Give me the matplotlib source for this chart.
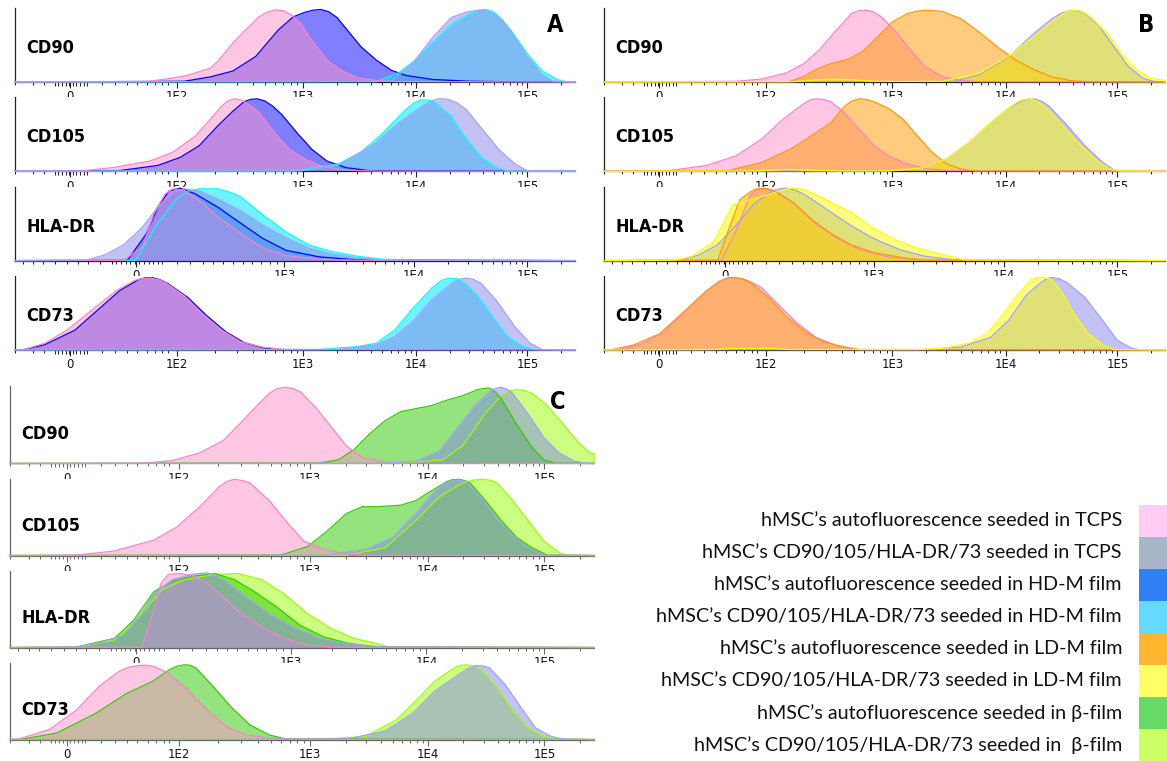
import numpy as np
import matplotlib
matplotlib.use('Agg')
import matplotlib.pyplot as plt
import matplotlib.transforms as mtransforms
from matplotlib.patches import Rectangle

# ---- axis description (display channels, axis runs 0-1000) ----
std_major = [98, 289, 514, 716, 915]
std_labels = ['0', '1E2', '1E3', '1E4', '1E5']
hla_major = [216, 481, 713, 915]
hla_labels = ['0', '1E3', '1E4', '1E5']

markers = ['CD90', 'CD105', 'HLA-DR', 'CD73']

# ---- histograms: (channel, % of max) ----
# Panel A: TCPS vs HD-M film
A_CD90_tcps_auto = [(234, .5), (275, 4.5), (308, 9), (349, 19), (362, 28), (389, 53), (409, 69), (436, 89), (452, 96), (466, 98.5), (480, 97), (495, 91), (510, 80), (530, 57), (557, 30), (584, 15), (611, 6), (645, 2), (685, .5)]
A_CD90_hd_auto = [(302, 1), (349, 7), (389, 15), (430, 35), (470, 71), (497, 89), (517, 95), (532, 98), (546, 99), (560, 96), (575, 88), (591, 73), (618, 48), (645, 30), (672, 16), (698, 9), (745, 3.5), (812, 1), (900, .3)]
A_CD90_hd_cd = [(645, .5), (685, 12.5), (712, 28), (745, 53), (779, 78), (812, 93), (828, 98), (842, 99), (856, 95), (870, 85), (887, 69), (914, 39), (941, 15), (968, 3.6), (981, .5)]
A_CD90_tcps_cd = [(672, 1), (712, 27), (745, 60), (779, 88), (805, 95), (822, 97.5), (838, 98), (855, 93), (870, 84), (887, 67), (914, 35), (941, 10), (961, 1)]

A_CD105_tcps_auto = [(117, .5), (174, 5), (241, 14), (282, 26), (322, 48), (349, 71), (369, 89), (380, 96), (392, 99), (405, 97), (420, 90), (436, 80), (463, 53), (490, 30), (517, 17), (544, 8), (577, 3), (611, 1), (650, .3)]
A_CD105_hd_auto = [(187, 1), (255, 8), (295, 19), (329, 35), (362, 62), (389, 82), (409, 95), (420, 98), (432, 99), (446, 96), (460, 89), (477, 77), (503, 53), (530, 30), (557, 14), (591, 5), (631, 1)]
A_CD105_hd_cd = [(497, .5), (577, 10), (618, 26), (658, 53), (692, 80), (712, 93), (726, 97.5), (740, 97), (752, 93), (779, 75), (806, 44), (833, 19), (860, 5), (880, .5)]
A_CD105_tcps_cd = [(510, .5), (577, 8), (645, 39), (685, 66), (719, 84), (740, 95), (756, 99), (772, 98.5), (788, 94), (806, 84), (839, 53), (866, 28), (893, 10), (914, 1)]

A_HLA_tcps_auto = [(194, .5), (228, 19), (248, 64), (268, 91), (282, 98), (302, 96), (329, 82), (362, 60), (403, 37), (443, 17), (484, 7), (544, 2), (611, .5)]
A_HLA_hd_auto = [(201, .5), (235, 37), (255, 73), (275, 95), (295, 99), (322, 91), (362, 73), (403, 51), (443, 30), (484, 14), (544, 5), (611, 1)]
A_HLA_hd_cd = [(215, .5), (255, 51), (288, 84), (310, 95), (329, 98), (362, 98), (385, 93), (403, 87), (443, 62), (484, 39), (524, 21.5), (564, 12.5), (611, 6), (652, 2), (700, .5)]
A_HLA_tcps_cd = [(127, .5), (161, 8), (194, 21.5), (228, 46), (255, 73), (282, 93), (302, 98), (329, 95), (362, 84), (403, 68), (443, 48), (484, 31), (524, 17), (564, 9), (611, 3.5), (660, .5)]

A_CD73_tcps_auto = [(16, .5), (53, 9), (93, 27), (140, 56), (181, 81), (214, 95), (228, 97.5), (241, 98), (256, 96), (268, 92), (302, 74), (335, 49), (369, 27), (403, 11), (443, 3.6), (484, .5)]
A_CD73_hd_auto = [(16, .5), (53, 7), (107, 27), (147, 54), (187, 81), (221, 96), (233, 98.5), (246, 98.5), (258, 96), (272, 91), (308, 72), (342, 47), (376, 25), (409, 10), (443, 3), (470, .5)]
A_CD73_hd_cd = [(544, .5), (611, 4.5), (645, 9), (678, 27), (712, 58), (745, 85), (762, 95), (775, 98), (789, 97), (805, 90), (826, 74), (853, 45), (880, 18), (907, 4.5), (927, .5)]
A_CD73_tcps_cd = [(577, .5), (645, 7), (678, 18), (712, 40), (745, 69), (779, 90), (792, 96), (805, 98), (818, 96.5), (832, 91), (860, 67), (893, 31), (920, 9), (941, .5)]

# Panel B: TCPS vs LD-M film
B_CD90_tcps_auto = [(235, 1), (281, 4), (326, 12.6), (358, 26), (384, 44), (410, 67), (442, 94), (455, 97.5), (468, 98), (481, 95.5), (494, 89), (520, 69), (546, 44), (572, 21), (604, 7), (637, 2), (669, .5)]
B_CD90_tcps_cd = [(624, 1), (669, 10), (721, 34), (766, 66), (798, 86), (815, 94), (831, 98), (845, 97), (857, 94), (883, 76), (909, 48), (935, 21), (961, 5), (980, 1)]
B_CD90_ld_auto = [(330, .5), (352, 6), (378, 17), (404, 25), (436, 31), (462, 42), (488, 62), (514, 82), (540, 93), (556, 96.5), (572, 98), (588, 97.5), (604, 96), (637, 86), (669, 68), (701, 48), (734, 30), (766, 17), (798, 7), (831, 2), (863, .5)]
B_CD90_ld_cd = [(339, .5), (404, 4), (442, 3), (481, 1), (540, .8), (604, 1), (669, 12), (721, 35), (766, 62), (798, 82), (824, 96), (834, 98), (846, 98), (858, 94), (870, 87), (896, 67), (922, 39), (948, 17), (974, 5), (1000, 2)]

B_CD105_tcps_auto = [(112, .5), (183, 8), (235, 21), (281, 44), (319, 71), (352, 90), (366, 97), (378, 99), (391, 98), (404, 95), (429, 80), (455, 57), (481, 35), (507, 21), (540, 10), (572, 4), (611, 1)]
B_CD105_tcps_cd = [(507, .5), (572, 5), (611, 17), (650, 39), (689, 66), (721, 86), (747, 97), (766, 99), (779, 96), (792, 90), (824, 64), (857, 35), (889, 12), (909, 2), (925, .5)]
B_CD105_ld_auto = [(222, 1), (281, 12), (332, 30), (365, 46), (404, 66), (429, 89), (442, 96), (455, 99), (468, 98), (481, 95), (507, 86), (533, 71), (559, 48), (585, 26), (611, 10), (637, 3), (663, .5)]
B_CD105_ld_cd = [(268, .5), (326, 2.5), (365, 1.5), (420, .5), (507, .5), (572, 5), (611, 17), (650, 39), (689, 66), (721, 86), (735, 94), (747, 98), (760, 99), (773, 95), (786, 89), (818, 62), (850, 35), (883, 12), (902, 3), (920, .5)]

B_HLA_tcps_auto = [(209, .5), (235, 40), (261, 90), (271, 96), (281, 98), (293, 97), (306, 95), (339, 78), (378, 50), (417, 30), (455, 15), (507, 5), (572, 1)]
B_HLA_tcps_cd = [(138, .5), (170, 8), (203, 22), (235, 48), (268, 78), (300, 95), (313, 98), (326, 99), (342, 96), (358, 90), (397, 70), (442, 47), (481, 30), (527, 15), (572, 6), (624, 1)]
B_HLA_ld_auto = [(203, .5), (222, 42), (242, 83), (261, 94), (272, 98), (284, 99), (295, 97.5), (306, 94), (339, 78), (372, 55), (404, 37), (442, 21), (481, 11), (540, 3), (572, .5)]
B_HLA_ld_cd = [(125, .5), (157, 6), (196, 26), (229, 76), (255, 82), (288, 89), (313, 95), (326, 98), (339, 99), (355, 97), (372, 92), (404, 80), (442, 65), (481, 44), (520, 28), (559, 17), (604, 8), (643, 1)]

B_CD73_tcps_auto = [(28, .5), (67, 8), (106, 24), (151, 57), (190, 85), (206, 94), (222, 98), (235, 98.5), (248, 97), (264, 92), (281, 85), (313, 60), (345, 36), (378, 17), (417, 5), (449, .5)]
B_CD73_tcps_cd = [(572, .5), (637, 4), (689, 17), (721, 40), (753, 75), (779, 92), (789, 97), (799, 99), (812, 97), (825, 92), (857, 72), (889, 40), (915, 13), (941, 2), (955, .5)]
B_CD73_ld_auto = [(15, .5), (54, 7), (99, 22), (145, 54), (183, 81), (213, 96), (222, 98.5), (232, 99), (246, 97), (261, 92), (293, 72), (326, 45), (358, 25), (391, 11), (429, 4), (455, .5)]
B_CD73_ld_cd = [(190, .5), (230, 2), (300, 2), (330, .5), (559, .5), (604, 2), (650, 9), (682, 22), (708, 45), (734, 72), (760, 95), (770, 98), (779, 99), (789, 98), (799, 95), (818, 77), (837, 50), (863, 22), (889, 7), (909, .5)]

# Panel C: TCPS vs beta film
C_CD90_b_cd = [(675, .5), (741, 5), (775, 23), (814, 66), (841, 89), (855, 95), (867, 97), (880, 96), (894, 92), (920, 76), (947, 52), (973, 28), (993, 14), (1000, 13)]
C_CD90_b_auto = [(530, .5), (563, 5), (590, 19), (616, 39), (642, 56), (669, 68), (695, 72), (722, 76), (748, 83), (775, 89), (801, 97), (811, 98.5), (821, 99), (831, 94), (841, 85), (867, 52), (894, 21), (914, 5), (934, .5)]
C_CD90_tcps_auto = [(232, .5), (279, 4), (325, 14), (365, 30), (391, 50), (418, 72), (444, 92), (457, 98), (470, 100), (484, 98.5), (497, 94), (523, 74), (550, 48), (576, 23), (603, 8), (642, 2), (675, .5)]
C_CD90_tcps_cd = [(642, .5), (695, 3), (735, 16), (768, 48), (794, 74), (821, 94), (831, 98.5), (841, 100), (851, 97.5), (861, 92), (887, 65), (914, 34), (940, 14), (967, 3), (987, .5)]

C_CD105_b_cd = [(576, .5), (642, 10), (695, 46), (735, 77), (775, 95), (793, 99), (811, 100), (823, 98.5), (834, 95), (861, 72), (887, 46), (914, 19), (940, 4), (953, .5)]
C_CD105_b_auto = [(464, .5), (510, 12), (543, 32), (576, 55), (603, 64), (629, 64), (669, 66), (695, 72), (722, 85), (748, 97), (758, 99.5), (768, 100), (778, 98.5), (788, 95), (814, 72), (841, 46), (867, 24), (894, 10), (920, .5)]
C_CD105_tcps_auto = [(113, .5), (179, 6), (246, 20), (285, 37), (325, 64), (358, 90), (371, 97), (384, 100), (397, 98.5), (411, 95), (444, 72), (477, 41), (503, 19), (537, 8), (576, 2), (609, .5)]
C_CD105_tcps_cd = [(543, .5), (609, 8), (656, 24), (695, 55), (728, 85), (745, 95), (761, 99), (771, 99), (781, 97), (808, 75), (834, 48), (861, 26), (887, 10), (914, .5)]

C_HLA_b_cd = [(120, .5), (179, 10), (219, 38), (259, 75), (298, 89), (351, 96), (391, 97), (431, 89), (470, 70), (510, 44), (550, 25), (589, 12), (629, 5), (649, .5)]
C_HLA_b_auto = [(113, .5), (179, 12), (212, 36), (246, 73), (278, 87), (318, 94), (351, 97), (384, 89), (417, 74), (457, 53), (497, 29), (537, 14), (576, 6), (622, 1)]
C_HLA_tcps_auto = [(226, .5), (246, 48), (259, 85), (272, 96), (292, 97), (312, 94), (338, 84), (365, 66), (391, 48), (431, 27), (470, 12), (510, 3), (560, .5)]
C_HLA_tcps_cd = [(113, .5), (153, 6), (193, 16), (226, 44), (246, 70), (278, 89), (312, 96), (338, 98), (365, 89), (404, 66), (444, 44), (484, 27), (530, 12), (576, 5), (642, .5)]

C_CD73_b_cd = [(537, .5), (609, 4), (662, 26), (695, 51), (728, 77), (761, 94), (771, 97), (781, 98), (795, 96), (808, 91), (834, 68), (861, 38), (887, 15), (914, 4), (934, .5)]
C_CD73_b_auto = [(21, .5), (80, 8.5), (146, 34), (199, 60), (246, 77), (272, 91), (285, 96), (298, 98), (308, 97.5), (318, 94), (345, 72), (378, 43), (411, 19), (444, 6), (470, 1)]
C_CD73_tcps_auto = [(14, .5), (67, 13), (113, 38), (153, 70), (186, 89), (202, 94.5), (219, 97), (233, 97.5), (246, 96), (272, 87), (305, 64), (338, 38), (371, 17), (404, 6), (444, 2), (470, .5)]
C_CD73_tcps_cd = [(576, .5), (642, 11), (689, 34), (728, 64), (768, 85), (784, 93), (798, 97), (810, 96.5), (821, 94), (848, 72), (874, 43), (900, 15), (927, 4), (947, .5)]

legend_labels = [
    'hMSC\u2019s autofluorescence seeded in TCPS',
    'hMSC\u2019s CD90/105/HLA-DR/73 seeded in TCPS',
    'hMSC\u2019s autofluorescence seeded in HD-M film',
    'hMSC\u2019s CD90/105/HLA-DR/73 seeded in HD-M film',
    'hMSC\u2019s autofluorescence seeded in LD-M film',
    'hMSC\u2019s CD90/105/HLA-DR/73 seeded in LD-M film',
    'hMSC\u2019s autofluorescence seeded in \u03b2-film',
    'hMSC\u2019s CD90/105/HLA-DR/73 seeded in  \u03b2-film',
]
legend_colors = ['#FFCCF5', '#A9B5C9', '#2F80F5', '#66D9FF',
                 '#FFB52E', '#FFFF66', '#66D966', '#CCFF66']

# fill colour, alpha, outline colour
styles = {
    'tcps_auto': ('#FF91C9', 0.5, '#FF80C8'),
    'tcps_cd': ('#8787EB', 0.5, '#A0A0FF'),
    'hd_auto': ('#0000FF', 0.5, '#0000FF'),
    'hd_cd': ('#00E6FF', 0.55, '#00FFFF'),
    'ld_auto': ('#FF9B00', 0.5, '#FF9900'),
    'ld_cd': ('#FFFF00', 0.5, '#FFFF00'),
    'b_auto': ('#2DC800', 0.5, '#33CC00'),
    'b_cd': ('#9BFF05', 0.5, '#99FF00'),
}

W, H = 1167, 761
g = globals()

panels = {
    # name: left px, right px, baselines px, height px, draw order, spine colour,
    # letter position, label height
    'A': (15, 575, [82, 171.3, 260.6, 349.9], 74,
          ['hd_auto', 'hd_cd', 'tcps_auto', 'tcps_cd'], '#222222', (555, 25), 0.46),
    'B': (604, 1165, [82, 171.3, 260.6, 349.9], 74,
          ['tcps_auto', 'tcps_cd', 'ld_auto', 'ld_cd'], '#222222', (1146, 25), 0.46),
    'C': (10, 594, [463.5, 555.5, 647.5, 739.5], 77,
          ['b_cd', 'b_auto', 'tcps_auto', 'tcps_cd'], '#666666', (558, 402), 0.38),
}
keys = {'CD90': 'CD90', 'CD105': 'CD105', 'HLA-DR': 'HLA', 'CD73': 'CD73'}


def decade_ticks(anchors):
    out = []
    for p0, p1 in zip(anchors[:-1], anchors[1:]):
        out += [p0 + np.log10(m) * (p1 - p0) for m in range(2, 10)]
    return out


std_minor = [0, 32, 52] + [155, 179, 200, 218, 236, 250, 263, 273] + \
    decade_ticks([289, 514, 716, 915, 1115])
std_cluster = list(np.linspace(71, 129, 10))
hla_minor = [14, 32, 50, 71, 93, 113, 130, 152] + \
    [289, 312, 336, 354, 371, 389, 407, 423, 439, 455, 468] + \
    decade_ticks([481, 713, 915, 1115])
hla_cluster = list(np.linspace(173, 263, 12))

label_font = dict(family='DejaVu Sans', fontstretch='condensed', fontweight='bold')

fig = plt.figure(figsize=(W / 100, H / 100), dpi=100)

for pname, (left, right, bases, hgt, order, scol, lpos, ly) in panels.items():
    for mk, base in zip(markers, bases):
        ax = fig.add_axes([left / W, 1 - base / H, (right - left) / W, hgt / H])
        for key in order:
            pts = g['%s_%s_%s' % (pname, keys[mk], key)]
            x = np.r_[0, [p[0] for p in pts], 1000]
            y = np.r_[0, [p[1] for p in pts], 0]
            face, a, edge = styles[key]
            ax.fill_between(x, y, 0, color=face, alpha=a, lw=0, zorder=2)
            ax.plot(x, y, color=edge, lw=0.9, zorder=3, clip_on=False)
        ax.set_xlim(0, 1000)
        ax.set_ylim(0, 101)
        for s in ['top', 'right']:
            ax.spines[s].set_visible(False)
        for s in ['left', 'bottom']:
            ax.spines[s].set_color(scol)
            ax.spines[s].set_linewidth(0.9)
        ax.set_yticks([])
        if mk == 'HLA-DR':
            major, labels, minor, cluster = hla_major, hla_labels, hla_minor, hla_cluster
        else:
            major, labels, minor, cluster = std_major, std_labels, std_minor, std_cluster
        ax.set_xticks(major, labels)
        ax.set_xticks([m for m in minor if m <= 1000], minor=True)
        ax.tick_params(axis='x', which='major', length=4, width=0.8, color=scol,
                       pad=2, labelsize=8.5, labelcolor='#111111')
        ax.tick_params(axis='x', which='minor', length=2.2, width=0.7, color=scol)
        trans = mtransforms.blended_transform_factory(ax.transData, ax.transAxes)
        ax.vlines(cluster, -0.05, 0, transform=trans, color=scol, lw=0.7, clip_on=False)
        ax.text(0.02, ly, mk, transform=ax.transAxes, ha='left', va='center',
                fontsize=13, **label_font)
    fig.text(lpos[0] / W, 1 - lpos[1] / H, pname, ha='center', va='center',
             fontsize=17, **label_font)

# legend block
lax = fig.add_axes([640 / W, 0, 527 / W, 256.5 / H])
lax.set_xlim(0, 527)
lax.set_ylim(len(legend_labels), 0)
lax.axis('off')
for i, (lab, col) in enumerate(zip(legend_labels, legend_colors)):
    lax.add_patch(Rectangle((499, i), 28, 1, color=col, lw=0))
    lax.text(482, i + 0.5, lab, ha='right', va='center', fontsize=14.2,
             family=['Lato', 'DejaVu Sans'], color='#111111')

fig.savefig('out.png', dpi=100)
